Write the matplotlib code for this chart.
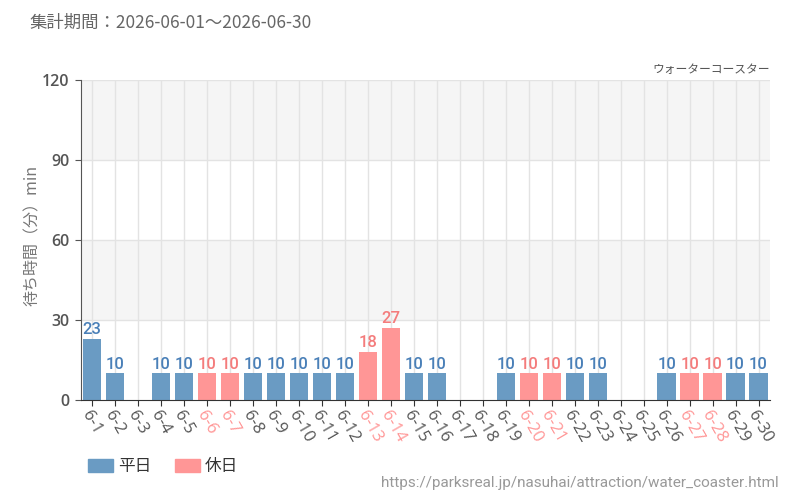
import matplotlib
matplotlib.use("Agg")
import matplotlib.pyplot as plt
from matplotlib.patches import Patch
import numpy as np

plt.rcParams['font.family'] = ['Noto Sans CJK JP', 'DejaVu Sans']

days = [f"6-{d}" for d in range(1, 31)]
values = [23, 10, None, 10, 10, 10, 10, 10, 10, 10, 10, 10, 18, 27, 10, 10,
          None, None, 10, 10, 10, 10, 10, None, None, 10, 10, 10, 10, 10]
holidays = [6, 7, 13, 14, 20, 21, 27, 28]
yticks = [0, 30, 60, 90, 120]

title = "集計期間：2026-06-01～2026-06-30"
subtitle = "ウォーターコースター"
ylabel = "待ち時間（分）min"
url = "https://parksreal.jp/nasuhai/attraction/water_coaster.html"

wk_color = "#6a9bc3"
hd_color = "#ff9696"
wk_text = "#4a80b8"
hd_text = "#f47c7c"

fig = plt.figure(figsize=(8, 5), dpi=100)
ax = fig.add_axes([0.101, 0.2, 0.8615, 0.64])

x = np.arange(len(days))
ax.set_xlim(-0.5, len(days) - 0.5)
ax.set_ylim(0, 120)

# background bands
for lo, hi, c in [(0, 30, "white"), (30, 60, "#f5f5f5"), (60, 90, "white"), (90, 120, "#f5f5f5")]:
    ax.axhspan(lo, hi, color=c, zorder=0, lw=0)
for yv in yticks[1:]:
    ax.axhline(yv, color="#e3e3e3", lw=1, zorder=0.5)
for xi in x:
    ax.axvline(xi, color="#e3e3e3", lw=1, zorder=0.5)

narrow = ['Roboto', 'DejaVu Sans']
for i, v in enumerate(values):
    if v is None:
        continue
    hol = (i + 1) in holidays
    col = hd_color if hol else wk_color
    ax.bar(x[i], v, width=0.8, color=col, zorder=2)
    ax.text(x[i], v + 0.6, str(v), ha="center", va="bottom", fontsize=12, fontweight="medium",
            color=hd_text if hol else wk_text, family=narrow, zorder=3)

for s in ["top", "right"]:
    ax.spines[s].set_visible(False)
ax.spines["left"].set_color("#555555")
ax.spines["bottom"].set_color("#333333")

ax.set_yticks(yticks)
ax.set_yticklabels([str(t) for t in yticks], fontsize=11.5, color="#555555", fontweight="semibold",
                   family=['Open Sans', 'DejaVu Sans'])
ax.tick_params(axis="y", length=4, color="#555555", pad=4)
ax.set_xticks(x)
ax.set_xticklabels(days, rotation=-60, ha="left", va="top", rotation_mode="anchor",
                   fontsize=12, color="#555555", family=['Open Sans', 'DejaVu Sans'])
for i, lab in enumerate(ax.get_xticklabels()):
    if (i + 1) in holidays:
        lab.set_color(hd_color)
ax.tick_params(axis="x", length=4, color="#333333", pad=2)

fig.text(0.037, 0.955, title, fontsize=12.5, color="#666666", ha="left", va="center")
fig.text(0.962, 0.862, subtitle, fontsize=8.5, color="#555555", ha="right", va="center")
fig.text(0.04, 0.53, ylabel, fontsize=11.5, color="#777777", rotation=90, ha="center", va="center")
fig.text(0.973, 0.035, url, fontsize=11, color="#999999", ha="right", va="center", family=narrow)

handles = [Patch(color=wk_color, label="平日"), Patch(color=hd_color, label="休日")]
fig.legend(handles=handles, loc="center left", bbox_to_anchor=(0.11, 0.066), ncol=2, frameon=False,
           fontsize=12, handlelength=1.5, handleheight=0.8, columnspacing=1.4, handletextpad=0.3,
           borderpad=0, borderaxespad=0, labelcolor="#333333")

fig.savefig("out.png", dpi=100)
